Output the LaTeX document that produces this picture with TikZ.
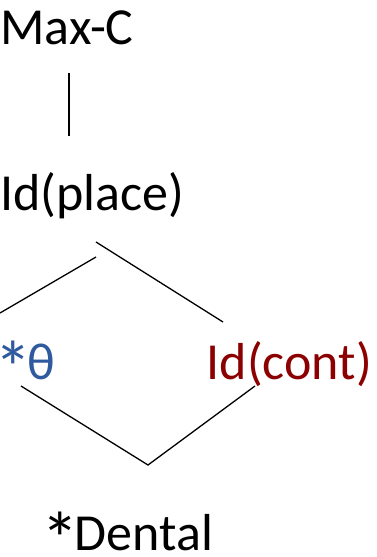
\documentclass[tikz,border=0pt]{standalone}
\usepackage{fontspec}
\usepackage{graphicx}
\setmainfont{Carlito}
\definecolor{thblue}{HTML}{2F5A9E}
\definecolor{idred}{HTML}{8B0000}
\newcommand\bigast{\raisebox{-0.29em}{\scalebox{1.45}{*}}\kern-0.08em}
\begin{document}
\begin{tikzpicture}[x=1pt,y=-1pt,
  lbl/.style={inner sep=0pt,anchor=base west,font=\fontsize{52}{60}\selectfont},
  edge/.style={line width=1.3pt,black}]
\useasboundingbox (0,0) rectangle (376,557);
\node[lbl] (maxc) at (0,44) {Max-C};
\node[lbl] (idplace) at (0,210) {Id(place)};
\node[lbl,text=thblue] (theta) at (-6,379) {\bigast θ};
\node[lbl,text=idred,anchor=base east] (idcont) at (372,379) {Id(cont)};
\node[lbl] (dental) at (41,550) {\bigast Dental};
\coordinate (a1) at (69,73);
\coordinate (a2) at (69,136);
\coordinate (b0) at (96,242);
\coordinate (b1) at (223,322);
\coordinate (c0) at (96,257);
\coordinate (c1) at (0,313);
\coordinate (d0) at (21,386);
\coordinate (d1) at (148,465);
\coordinate (d2) at (255,386);
\draw[edge] (a1) -- (a2);
\draw[edge] (b0) -- (b1);
\draw[edge] (c0) -- (c1);
\draw[edge] (d0) -- (d1) -- (d2);
\end{tikzpicture}
\end{document}
